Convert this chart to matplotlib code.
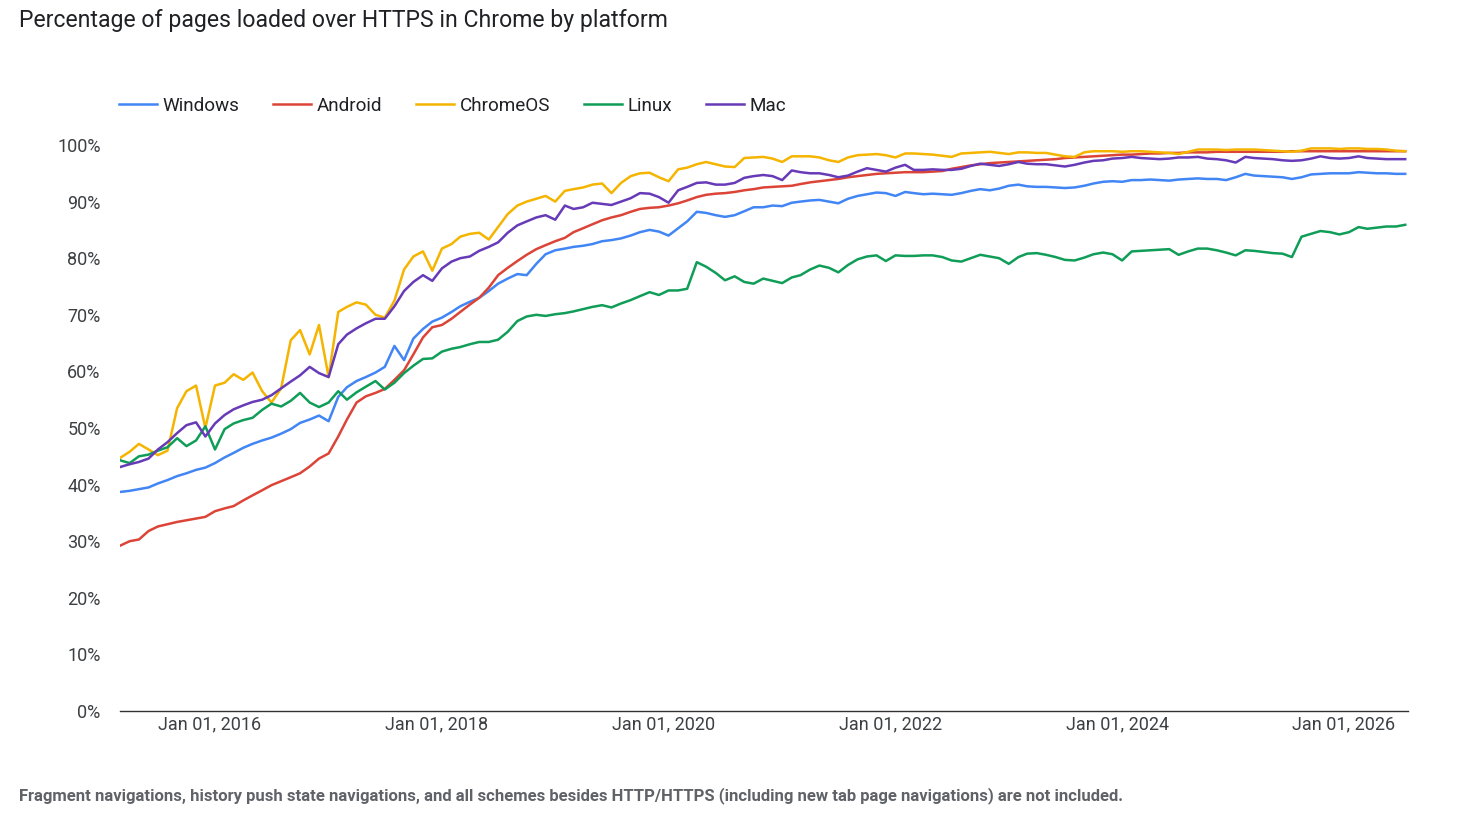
import matplotlib
matplotlib.use("Agg")
import matplotlib.pyplot as plt
import matplotlib.dates as mdates
import pandas as pd

plt.rcParams['font.family'] = ['Roboto', 'DejaVu Sans']

# monthly samples, mid-March 2015 .. mid-July 2026
dates = pd.date_range('2015-03-01', periods=137, freq='MS') + pd.Timedelta(days=16)

windows = [38.7, 38.9, 39.2, 39.5, 40.2, 40.8, 41.5, 42.0, 42.6, 43.0,
           43.8, 44.8, 45.6, 46.5, 47.2, 47.8, 48.3, 49.0, 49.8, 50.9,
           51.5, 52.2, 51.2, 55.5, 57.2, 58.3, 59.0, 59.8, 60.8, 64.5,
           62.0, 65.8, 67.5, 68.8, 69.5, 70.5, 71.5, 72.3, 73.0, 74.2,
           75.5, 76.4, 77.2, 77.0, 79.0, 80.7, 81.4, 81.7, 82.0, 82.2,
           82.5, 83.0, 83.2, 83.5, 84.0, 84.6, 85.0, 84.7, 84.0, 85.3,
           86.5, 88.2, 88.0, 87.6, 87.3, 87.6, 88.3, 89.0, 89.0, 89.3,
           89.2, 89.8, 90.0, 90.2, 90.3, 90.0, 89.7, 90.5, 91.0, 91.3,
           91.6, 91.5, 91.0, 91.7, 91.5, 91.3, 91.4, 91.3, 91.2, 91.5,
           91.9, 92.2, 92.0, 92.3, 92.8, 93.0, 92.7, 92.6, 92.6, 92.5,
           92.4, 92.5, 92.8, 93.2, 93.5, 93.6, 93.5, 93.8, 93.8, 93.9,
           93.8, 93.7, 93.9, 94.0, 94.1, 94.0, 94.0, 93.8, 94.3, 94.9,
           94.6, 94.5, 94.4, 94.3, 94.0, 94.3, 94.8, 94.9, 95.0, 95.0,
           95.0, 95.2, 95.1, 95.0, 95.0, 94.9, 94.9]

android = [29.2, 30.0, 30.3, 31.8, 32.6, 33.0, 33.4, 33.7, 34.0, 34.3,
           35.3, 35.8, 36.2, 37.2, 38.1, 39.0, 39.9, 40.6, 41.3, 42.0,
           43.2, 44.6, 45.5, 48.5, 51.5, 54.5, 55.6, 56.2, 56.9, 58.5,
           60.2, 63.0, 66.0, 67.8, 68.2, 69.3, 70.5, 71.8, 73.0, 74.8,
           77.0, 78.3, 79.5, 80.6, 81.6, 82.3, 83.0, 83.6, 84.6, 85.3,
           86.0, 86.7, 87.2, 87.6, 88.2, 88.7, 88.9, 89.0, 89.3, 89.7,
           90.2, 90.8, 91.2, 91.4, 91.5, 91.7, 92.0, 92.2, 92.5, 92.6,
           92.7, 92.8, 93.1, 93.4, 93.6, 93.8, 94.0, 94.3, 94.5, 94.7,
           94.9, 95.0, 95.1, 95.2, 95.2, 95.2, 95.3, 95.4, 95.8, 96.1,
           96.4, 96.6, 96.8, 96.9, 97.0, 97.1, 97.2, 97.3, 97.4, 97.5,
           97.7, 97.8, 97.9, 98.0, 98.1, 98.2, 98.3, 98.3, 98.4, 98.5,
           98.5, 98.6, 98.6, 98.7, 98.7, 98.7, 98.8, 98.8, 98.8, 98.8,
           98.8, 98.8, 98.8, 98.8, 98.9, 98.9, 98.9, 98.9, 98.9, 98.9,
           98.9, 98.9, 98.9, 98.9, 98.9, 98.9, 98.9]

chromeos = [44.7, 45.8, 47.2, 46.2, 45.2, 46.0, 53.5, 56.5, 57.5, 50.0,
            57.5, 58.0, 59.5, 58.5, 59.8, 56.5, 54.5, 57.0, 65.5, 67.3,
            63.0, 68.2, 59.0, 70.5, 71.4, 72.2, 71.8, 70.0, 69.5, 72.5,
            78.0, 80.3, 81.2, 77.8, 81.7, 82.5, 83.8, 84.3, 84.5, 83.3,
            85.5, 87.8, 89.3, 90.0, 90.5, 91.0, 90.0, 91.9, 92.2, 92.5,
            93.0, 93.2, 91.5, 93.3, 94.5, 95.0, 95.1, 94.3, 93.6, 95.7,
            96.0, 96.6, 97.0, 96.6, 96.2, 96.1, 97.7, 97.8, 97.9, 97.6,
            97.0, 98.0, 98.0, 98.0, 97.8, 97.3, 97.0, 97.8, 98.2, 98.3,
            98.4, 98.2, 97.8, 98.5, 98.5, 98.4, 98.3, 98.1, 97.9, 98.5,
            98.6, 98.7, 98.8, 98.6, 98.4, 98.7, 98.7, 98.6, 98.6, 98.3,
            98.0, 97.9, 98.7, 98.9, 98.9, 98.9, 98.8, 98.9, 98.9, 98.8,
            98.7, 98.6, 98.4, 98.8, 99.2, 99.2, 99.2, 99.1, 99.2, 99.2,
            99.2, 99.1, 99.0, 98.9, 98.8, 99.0, 99.4, 99.4, 99.4, 99.3,
            99.4, 99.4, 99.3, 99.3, 99.2, 99.0, 98.9]

linux = [44.3, 43.8, 45.0, 45.3, 46.0, 46.6, 48.2, 46.8, 47.8, 50.3,
         46.2, 49.8, 50.8, 51.4, 51.8, 53.2, 54.3, 53.8, 54.8, 56.2,
         54.5, 53.7, 54.5, 56.5, 55.0, 56.3, 57.3, 58.3, 56.8, 58.0,
         59.7, 61.0, 62.2, 62.3, 63.5, 64.0, 64.3, 64.8, 65.2, 65.2,
         65.6, 67.0, 68.9, 69.7, 70.0, 69.8, 70.1, 70.3, 70.6, 71.0,
         71.4, 71.7, 71.3, 72.0, 72.6, 73.3, 74.0, 73.5, 74.3, 74.3,
         74.6, 79.3, 78.5, 77.4, 76.1, 76.8, 75.8, 75.5, 76.4, 76.0,
         75.6, 76.6, 77.0, 78.0, 78.7, 78.3, 77.5, 78.8, 79.8, 80.3,
         80.5, 79.5, 80.5, 80.4, 80.4, 80.5, 80.5, 80.2, 79.6, 79.4,
         80.0, 80.6, 80.3, 80.0, 79.0, 80.2, 80.8, 80.9, 80.6, 80.2,
         79.7, 79.6, 80.1, 80.7, 81.0, 80.7, 79.6, 81.2, 81.3, 81.4,
         81.5, 81.6, 80.6, 81.2, 81.7, 81.7, 81.4, 81.0, 80.5, 81.4,
         81.3, 81.1, 80.9, 80.8, 80.2, 83.8, 84.3, 84.8, 84.6, 84.2,
         84.6, 85.5, 85.2, 85.4, 85.6, 85.6, 85.9]

mac = [43.1, 43.6, 44.0, 44.6, 46.2, 47.5, 49.1, 50.5, 51.0, 48.5,
       50.8, 52.3, 53.3, 54.0, 54.6, 55.0, 55.8, 57.0, 58.2, 59.3,
       60.8, 59.7, 59.0, 64.8, 66.5, 67.6, 68.5, 69.3, 69.3, 71.5,
       74.2, 75.8, 77.0, 76.0, 78.2, 79.4, 80.0, 80.3, 81.3, 82.0,
       82.8, 84.5, 85.8, 86.5, 87.2, 87.6, 86.8, 89.3, 88.7, 89.0,
       89.8, 89.6, 89.4, 90.0, 90.6, 91.5, 91.4, 90.8, 89.8, 92.0,
       92.6, 93.3, 93.4, 93.0, 93.0, 93.3, 94.2, 94.5, 94.7, 94.5,
       93.8, 95.5, 95.2, 95.0, 95.0, 94.7, 94.3, 94.6, 95.3, 95.9,
       95.6, 95.3, 96.0, 96.5, 95.6, 95.6, 95.7, 95.6, 95.6, 95.8,
       96.3, 96.7, 96.5, 96.3, 96.6, 97.0, 96.7, 96.6, 96.6, 96.4,
       96.2, 96.5, 96.9, 97.2, 97.3, 97.6, 97.7, 97.9, 97.7, 97.6,
       97.5, 97.6, 97.8, 97.8, 97.9, 97.6, 97.5, 97.3, 96.9, 97.9,
       97.7, 97.6, 97.5, 97.3, 97.2, 97.3, 97.6, 98.0, 97.7, 97.6,
       97.7, 98.0, 97.7, 97.6, 97.5, 97.5, 97.5]

names = ['Windows', 'Android', 'ChromeOS', 'Linux', 'Mac']
colors = ['#4285F4', '#DB4437', '#F4B400', '#0F9D58', '#673AB7']
series = [windows, android, chromeos, linux, mac]
tick_years = [2016, 2018, 2020, 2022, 2024, 2026]

W, H = 1470, 821
fig = plt.figure(figsize=(W / 100, H / 100), dpi=100)
ax = fig.add_axes([120 / W, 1 - 711 / H, (1408 - 120) / W, (711 - 145) / H])

for name, col, vals in zip(names, colors, series):
    ax.plot(dates, vals, color=col, lw=1.8, label=name)

ax.set_ylim(0, 100)
ax.set_xlim(pd.Timestamp('2015-03-17'), pd.Timestamp('2026-07-26'))
ax.set_yticks(range(0, 101, 10))
ax.set_yticklabels([f'{v}%' for v in range(0, 101, 10)])
ax.set_xticks([pd.Timestamp(f'{y}-01-01') for y in tick_years])
ax.xaxis.set_major_formatter(mdates.DateFormatter('%b %d, %Y'))
ax.tick_params(axis='both', length=0, labelsize=13, colors='#3c4043')
ax.tick_params(axis='y', pad=14)
ax.tick_params(axis='x', pad=3)
for s in ['top', 'right', 'left']:
    ax.spines[s].set_visible(False)
ax.spines['bottom'].set_color('#333333')
ax.spines['bottom'].set_linewidth(1.0)

fig.text(19 / W, 1 - 21 / H, 'Percentage of pages loaded over HTTPS in Chrome by platform',
         fontsize=16.6, color='#202124', va='center', ha='left')

fig.legend(loc='center left', bbox_to_anchor=(102 / W, 1 - 106 / H), ncol=5,
           frameon=False, fontsize=13.6, handlelength=2.0, handletextpad=0.3,
           columnspacing=1.8, labelcolor='#202124')

fig.text(19 / W, 1 - 796 / H,
         'Fragment navigations, history push state navigations, and all schemes besides '
         'HTTP/HTTPS (including new tab page navigations) are not included.',
         fontsize=12, fontweight='bold', color='#5f6368', va='center', ha='left')

fig.savefig('out.png', dpi=100)
